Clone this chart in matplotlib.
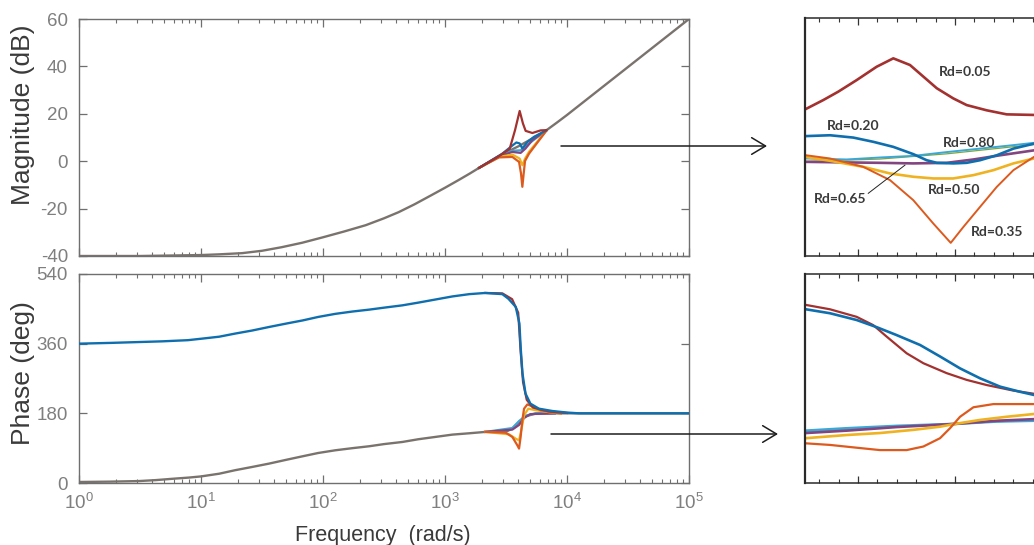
import matplotlib
matplotlib.use("Agg")
import matplotlib.pyplot as plt
from matplotlib import font_manager
from matplotlib.patches import FancyArrowPatch
from matplotlib.ticker import FixedLocator, MultipleLocator, NullFormatter, NullLocator

# ---------------- main Bode plot ----------------
# common (overlapping) magnitude curve
w_base = [1, 3.16, 10, 14.1, 21.7, 31.6, 45.7, 67.6, 100, 148, 224, 316, 417, 562,
          776, 1000, 1288, 1585, 1905, 2291, 2754, 3311, 4074, 5248, 6761, 8318,
          10000, 12589, 15849, 19953, 31623, 50119, 100000]
mag_base = [-40, -40, -39.6, -39.3, -38.8, -37.8, -36.3, -34.4, -32.1, -29.7, -27,
            -24.1, -21.5, -18.2, -14.3, -11.2, -8, -5.3, -2.8, -0.4, 2.0, 4.2, 6.5,
            9.7, 13, 16.4, 19.5, 23.55, 27.6, 31.65, 39.75, 47.85, 60]

# resonance region of each damping case (magnitude, dB)
w_mag_red = [1905, 2818, 3388, 3750, 4093, 4355, 4581, 5200, 6081, 6761]
mag_red = [-2.8, 2.4, 5.2, 13.1, 21.2, 15.9, 12.8, 11.9, 13.0, 13.1]
w_mag_blue = [1905, 2951, 3565, 3846, 4093, 4305, 4732, 5370, 6761]
mag_blue = [-2.8, 3.2, 6.6, 7.9, 7.5, 5.35, 8.1, 10.3, 13]
w_mag_orange = [1905, 2773, 3565, 4046, 4198, 4305, 4416, 4529, 4887, 5534, 6761]
mag_orange = [-2.8, 1.6, 1.8, -0.3, -5.2, -10.8, -5.2, 0.1, 3.2, 6.9, 12.8]
w_mag_yellow = [1905, 2773, 3565, 4093, 4305, 4529, 4887, 6761]
mag_yellow = [-2.8, 1.8, 2.8, 1.1, -1.7, 1.1, 4.0, 12.9]
w_mag_purple = [1905, 2773, 3565, 4169, 4571, 5200, 6761]
mag_purple = [-2.8, 2.0, 3.9, 3.5, 5.35, 8.9, 13]
w_mag_cyan = [1905, 2773, 3565, 4169, 4732, 6761]
mag_cyan = [-2.8, 2.1, 4.4, 4.6, 6.9, 13]

# phase, lower branch (common curve)
w_ph_base = [1, 1.78, 3.1, 4.27, 5.9, 7.94, 10, 14.1, 19, 26.3, 36, 50.1, 68, 91.2,
             126, 174, 240, 316, 447, 603, 832, 1148, 1585, 2138, 3141, 3565, 4046,
             4581, 5534, 7943, 100000]
ph_base = [2.6, 3.5, 5, 7.5, 11, 14, 17, 24, 33, 41.5, 50, 60, 69, 77.5, 84.5, 90,
           95, 100.5, 106, 113, 119, 125, 128.5, 132, 132, 140.6, 157.6, 172.4,
           179.3, 180, 180]
# phase, upper branch
w_ph_blue = [1, 1.82, 4.8, 7.8, 10.2, 14.1, 19, 26.3, 36, 50.1, 68, 91.2, 126, 174,
             240, 316, 447, 603, 832, 1148, 1585, 2138, 2951, 3311, 3802, 4074, 4169,
             4315, 4571, 5012, 5888, 7586, 10000, 12589, 100000]
ph_blue = [360, 362, 366, 369, 373, 378, 386, 394, 403, 412, 420, 429, 437, 443,
           448, 453, 459, 466, 474, 482, 488, 491, 488, 476, 455, 412, 351, 283,
           231, 205, 192, 186, 182, 180, 180]
w_ph_red = [2138, 2951, 3548, 3981, 4169, 4365, 4677, 5248, 7079, 10000]
ph_red = [491, 490, 475, 440, 340, 260, 215, 195, 185, 181]
w_ph_orange = [2138, 3141, 3565, 3917, 4046, 4169, 4305, 4446, 4732, 5200, 6081,
               7586, 8913]
ph_orange = [132, 130, 118.9, 97.4, 88.9, 118.9, 162, 192, 203, 198, 188, 182.7, 180]
w_ph_yellow = [2138, 3350, 3793, 4046, 4246, 4446, 4819, 5534, 7244, 8913]
ph_yellow = [132, 125.8, 114.7, 110, 140.6, 175, 192, 188, 182.7, 180]
w_ph_purple = [2138, 3565, 4046, 4446, 5012, 7943]
ph_purple = [132, 138, 150, 168, 178, 180]
w_ph_cyan = [2138, 3565, 4046, 4581, 5534, 7943]
ph_cyan = [132, 142, 160, 174, 180, 180]

# ---------------- zoomed insets ----------------
zm_red_x = [3727, 3821, 3898, 3993, 4096, 4182, 4268, 4337, 4406, 4491, 4560, 4663, 4766, 4907, 5050]
zm_red_y = [11.95, 13.56, 15.0, 17.0, 19.3, 20.75, 19.6, 17.6, 15.6, 13.85, 12.7, 11.8, 11.1, 11.0, 11.0]
zm_blue_x = [3727, 3856, 3976, 4079, 4182, 4285, 4354, 4406, 4491, 4560, 4629, 4715, 4801, 4907, 5050]
zm_blue_y = [7.35, 7.5, 7.1, 6.37, 5.5, 4.25, 3.2, 2.75, 2.65, 2.75, 3.2, 4.05, 5.2, 6.05, 7.0]
zm_orange_x = [3727, 3856, 4027, 4165, 4285, 4388, 4478, 4543, 4629, 4715, 4801, 4907, 5050]
zm_orange_y = [4.08, 3.5, 2.06, -0.23, -3.68, -7.7, -11.04, -8.3, -4.84, -1.4, 1.49, 3.78, 5.5]
zm_yellow_x = [3727, 3856, 4027, 4165, 4285, 4388, 4491, 4595, 4698, 4801, 4907, 5050]
zm_yellow_y = [3.78, 3.1, 2.06, 0.92, 0.35, 0.06, 0.06, 0.63, 1.49, 2.65, 3.5, 4.5]
zm_purple_x = [3727, 3942, 4113, 4285, 4457, 4595, 4732, 4907, 5050]
zm_purple_y = [2.92, 2.82, 2.75, 2.65, 2.75, 3.33, 4.05, 4.9, 5.6]
zm_cyan_x = [3727, 3942, 4113, 4285, 4457, 4629, 4801, 4907, 5050]
zm_cyan_y = [3.5, 3.33, 3.67, 3.95, 4.6, 5.2, 5.8, 6.2, 6.7]
zm_green_x = [3727, 4113, 4457, 4907, 5050]
zm_green_y = [3.0, 3.4, 4.3, 5.9, 6.4]

zp_red_x = [3732, 3856, 3993, 4079, 4148, 4251, 4337, 4457, 4560, 4663, 4801, 4907, 5050]
zp_red_y = [480, 469, 450, 429, 400, 358, 333, 308, 291, 278, 264, 256, 250]
zp_blue_x = [3732, 3856, 3993, 4096, 4199, 4320, 4423, 4526, 4629, 4732, 4835, 4907, 5050]
zp_blue_y = [469, 459, 442, 424, 404, 379, 350, 320, 295, 274, 261, 253, 245]
zp_orange_x = [3732, 3856, 3993, 4113, 4251, 4337, 4423, 4474, 4526, 4595, 4698, 4907, 5050]
zp_orange_y = [131, 127, 120, 114, 114, 123, 144, 169, 198, 222, 230, 230, 230]
zp_yellow_x = [3732, 3942, 4113, 4285, 4423, 4500, 4629, 4766, 4907, 5050]
zp_yellow_y = [144, 152, 157, 165, 173, 180, 190, 198, 205, 210]
zp_purple_x = [3732, 3942, 4199, 4500, 4715, 4907, 5050]
zp_purple_y = [157, 163, 172, 180, 188, 192, 195]
zp_cyan_x = [3732, 3942, 4199, 4500, 4715, 4907, 5050]
zp_cyan_y = [163, 169, 175, 180, 186, 188, 190]
zp_green_x = [3732, 4199, 4500, 4907, 5050]
zp_green_y = [160, 174, 180, 190, 193]

labels = ["Rd=0.05", "Rd=0.20", "Rd=0.80", "Rd=0.50", "Rd=0.65", "Rd=0.35"]
label_x = [4418, 3839, 4435, 4359, 3775, 4582]
label_y = [18.4, 9.1, 6.1, -2.0, -3.4, -9.2]

C_RED = "#a2312f"
C_BLUE = "#0f6fae"
C_ORANGE = "#dc5a1e"
C_YELLOW = "#efb221"
C_PURPLE = "#834580"
C_CYAN = "#3aa7d4"
C_GREEN = "#7fa63a"
C_GRAY = "#7a736d"
TICK = "#7f7f7f"
LABEL = "#3a3a3a"

names = {f.name for f in font_manager.fontManager.ttflist}
plt.rcParams["font.family"] = ["Liberation Sans", "DejaVu Sans"]
plt.rcParams["axes.unicode_minus"] = False
narrow = "Liberation Sans Narrow" in names

fig = plt.figure(figsize=(10.34, 5.45), dpi=100)
W, H = 1034.0, 545.0


def px_axes(x0, y0, x1, y1):
    return fig.add_axes([x0 / W, 1 - y1 / H, (x1 - x0) / W, (y1 - y0) / H])


ax_m = px_axes(79, 19, 689, 256)
ax_p = px_axes(79, 274, 689, 483)

for ax in (ax_m, ax_p):
    ax.set_xscale("log")
    ax.set_xlim(1, 1e5)
    for s in ax.spines.values():
        s.set_color("#6f6f6f")
        s.set_linewidth(1.0)
    ax.tick_params(which="both", direction="in", top=True, right=True,
                   colors="#6f6f6f", labelcolor=TICK, labelsize=13.5, pad=8)
    ax.tick_params(which="major", length=5.5, width=0.9)
    ax.tick_params(which="minor", length=3, width=0.8)

# magnitude
ax_m.plot(w_base, mag_base, color=C_GRAY, lw=1.7, zorder=2)
for w, m, c in ((w_mag_cyan, mag_cyan, C_CYAN), (w_mag_purple, mag_purple, C_PURPLE),
                (w_mag_yellow, mag_yellow, C_YELLOW), (w_mag_orange, mag_orange, C_ORANGE),
                (w_mag_blue, mag_blue, C_BLUE), (w_mag_red, mag_red, C_RED)):
    ax_m.plot(w, m, color=c, lw=1.6, zorder=3)
ax_m.set_ylim(-40, 60)
ax_m.yaxis.set_major_locator(FixedLocator([-40, -20, 0, 20, 40, 60]))
ax_m.xaxis.set_major_formatter(NullFormatter())

# phase
ax_p.plot(w_ph_base, ph_base, color=C_GRAY, lw=1.7, zorder=2)
for w, p, c in ((w_ph_cyan, ph_cyan, C_CYAN), (w_ph_purple, ph_purple, C_PURPLE),
                (w_ph_yellow, ph_yellow, C_YELLOW), (w_ph_orange, ph_orange, C_ORANGE)):
    ax_p.plot(w, p, color=c, lw=1.6, zorder=3)
ax_p.plot(w_ph_red, ph_red, color=C_RED, lw=1.6, zorder=3)
ax_p.plot(w_ph_blue, ph_blue, color=C_BLUE, lw=1.7, zorder=4)
ax_p.set_ylim(0, 540)
ax_p.yaxis.set_major_locator(FixedLocator([0, 180, 360, 540]))
ax_p.tick_params(axis="x", pad=7)

fig.text(23 / W, 1 - 115 / H, "Magnitude (dB)", rotation=90, ha="center",
         va="center", fontsize=19, color=LABEL)
fig.text(23 / W, 1 - 373 / H, "Phase (deg)", rotation=90, ha="center",
         va="center", fontsize=19, color=LABEL)
if narrow:
    fig.text(383 / W, 1 - 536 / H, "Frequency  (rad/s)", ha="center", va="center",
             fontsize=19, color=LABEL, family="Liberation Sans Narrow")
else:
    fig.text(383 / W, 1 - 536 / H, "Frequency  (rad/s)", ha="center", va="center",
             fontsize=15.5, color=LABEL)

# insets (right edge runs past the figure border, as in the source)
ins_m = px_axes(805, 18, 1060, 256)
ins_p = px_axes(805, 274, 1060, 483)
for ax in (ins_m, ins_p):
    ax.set_xlim(3727, 5041)
    ax.xaxis.set_major_locator(FixedLocator([4000, 4500, 5000]))
    ax.xaxis.set_minor_locator(MultipleLocator(100))
    ax.xaxis.set_major_formatter(NullFormatter())
    ax.yaxis.set_major_locator(NullLocator())
    ax.yaxis.set_minor_locator(NullLocator())
    ax.tick_params(which="both", direction="in", top=True, bottom=True,
                   colors="#333333")
    ax.tick_params(which="major", length=5, width=0.9)
    ax.tick_params(which="minor", length=3, width=0.8)
    for s in ax.spines.values():
        s.set_color("#2a2a2a")
        s.set_linewidth(1.1)
    ax.spines["left"].set_linewidth(1.6)

ins_m.set_ylim(-13.3, 27.7)
ins_m.plot(zm_green_x, zm_green_y, color=C_GREEN, lw=0.9)
ins_m.plot(zm_cyan_x, zm_cyan_y, color=C_CYAN, lw=1.4)
ins_m.plot(zm_purple_x, zm_purple_y, color=C_PURPLE, lw=1.9)
ins_m.plot(zm_yellow_x, zm_yellow_y, color=C_YELLOW, lw=1.9)
ins_m.plot(zm_orange_x, zm_orange_y, color=C_ORANGE, lw=1.4)
ins_m.plot(zm_blue_x, zm_blue_y, color=C_BLUE, lw=1.9)
ins_m.plot(zm_red_x, zm_red_y, color=C_RED, lw=1.9)
for t, x, y in zip(labels, label_x, label_y):
    ins_m.text(x, y, t, ha="left", va="center", fontsize=10, fontweight="bold",
               family=["Lato", "DejaVu Sans"], color="#3a3a3a")
ins_m.plot([4053, 4242], [-2.5, 2.35], color="#222222", lw=0.7)

ins_p.set_ylim(31, 558)
ins_p.plot(zp_green_x, zp_green_y, color=C_GREEN, lw=0.9)
ins_p.plot(zp_cyan_x, zp_cyan_y, color=C_CYAN, lw=1.9)
ins_p.plot(zp_purple_x, zp_purple_y, color=C_PURPLE, lw=1.9)
ins_p.plot(zp_yellow_x, zp_yellow_y, color=C_YELLOW, lw=1.9)
ins_p.plot(zp_orange_x, zp_orange_y, color=C_ORANGE, lw=1.6)
ins_p.plot(zp_red_x, zp_red_y, color=C_RED, lw=1.6)
ins_p.plot(zp_blue_x, zp_blue_y, color=C_BLUE, lw=1.9)

# arrows from the main plot to the insets
arrow = dict(arrowstyle="->,head_length=1.0,head_width=0.6", lw=1.1,
             color="#1e1e1e", shrinkA=0, shrinkB=0, mutation_scale=10)
fig.add_artist(FancyArrowPatch(
    (561 / W, 1 - 146 / H), (767 / W, 1 - 146 / H), transform=fig.transFigure, **arrow))
fig.add_artist(FancyArrowPatch(
    (551 / W, 1 - 434 / H), (778 / W, 1 - 434 / H), transform=fig.transFigure, **arrow))

fig.savefig("out.png", dpi=100)
